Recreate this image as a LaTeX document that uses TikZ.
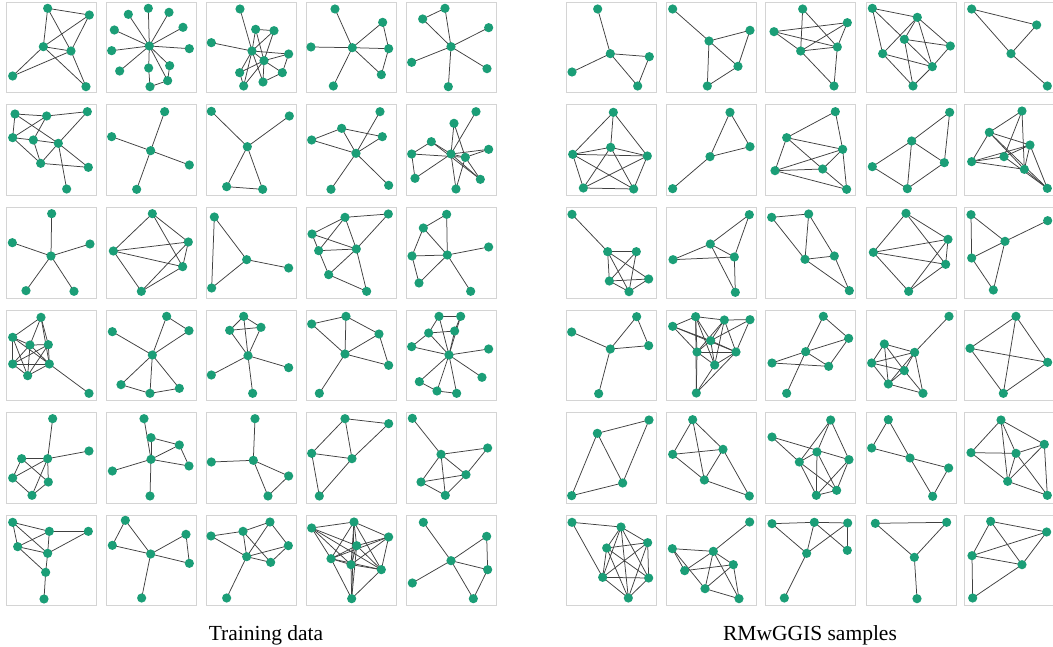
\documentclass[tikz,border=0pt]{standalone}
\usepackage{fontspec}
\setmainfont{Liberation Serif}
\definecolor{nodegreen}{RGB}{27,158,119}
\definecolor{framegray}{RGB}{212,212,212}
\definecolor{edgegray}{RGB}{64,64,64}
\tikzset{
  vert/.style={circle,fill=nodegreen,draw=none,minimum size=9.2pt,inner sep=0pt},
  edge/.style={draw=edgegray,line width=0.75pt},
  panel/.style={draw=framegray,line width=0.9pt},
  caption/.style={anchor=base,font=\fontsize{21.5}{26}\selectfont}
}
% #1 name prefix, #2 offset of the row strip, #3 vertices name/x/y, #4 edges u/w
% vertex coordinates are given at three times the pixel scale of the strip
\newcommand\drawnet[4]{%
  \begin{scope}[shift={#2},x=0.333333pt,y=-0.333333pt]
    \foreach \n/\px/\py in {#3} \coordinate (#1\n) at (\px,\py);
    \foreach \u/\w in {#4} \draw[edge] (#1\u) -- (#1\w);
    \foreach \n/\px/\py in {#3} \node[vert] (#1\n v) at (#1\n) {};
  \end{scope}}
\begin{document}
\begin{tikzpicture}[x=1pt,y=-1pt]
\fill[white] (0,0) rectangle (1053,647);
\useasboundingbox (0,0) rectangle (1053,647);

% panel frames
\foreach \r in {0,...,5} {
  \foreach \cx in {6,106,206,306,406} \draw[panel] (\cx,2.3+102.6*\r) rectangle ++(90,90.5);
  \foreach \cx in {566,666.5,765.7,866,964.3} \draw[panel] (\cx,2.3+102.6*\r) rectangle ++(90,90.5);
}

% ---------------- training data ----------------
% row 1
\drawnet{L1}{(0,0)}{a/143/25, b/268/45, c/130/140, d/213/153, e/38/228, f/258/260}
  {a/b, a/c, a/d, b/c, b/d, c/d, c/e, e/d, c/f, d/f}
\drawnet{L2}{(0,0)}{o/448/138, a/385/43, b/445/25, c/507/37, d/549/82, e/343/90, f/568/146, g/335/152, h/359/213, i/446/204, j/509/197, k/503/242, l/450/260}
  {o/a, o/b, o/c, o/d, o/e, o/f, o/g, o/h, o/i, o/j, o/k, i/l, l/k, j/k}
\drawnet{L3}{(0,0)}{a/720/27, b/767/88, c/822/92, d/634/128, e/756/153, f/866/162, g/792/182, h/719/218, i/847/218, j/789/246, k/731/258}
  {a/e, d/e, b/e, b/c, c/e, b/g, c/g, e/f, e/g, e/h, e/k, g/f, g/i, g/h, g/j, g/k, h/k, j/i, f/i, e/j}
\drawnet{L4}{(0,0)}{o/1057/143, a/1005/27, b/1148/67, c/933/141, d/1166/146, e/1000/258, f/1144/224}
  {o/a, o/b, o/c, o/d, o/e, o/f, b/d, d/f}
\drawnet{L5}{(0,0)}{o/1353/140, a/1335/25, b/1268/57, c/1466/83, d/1235/187, e/1461/206, f/1345/260}
  {b/a, a/o, b/o, o/c, o/d, o/e, o/f}
% row 2
\drawnet{L6}{(0,100)}{a/45/42, b/140/48, c/262/35, d/38/113, e/100/120, f/175/130, g/122/190, h/265/202, i/200/267}
  {a/b, b/c, a/d, a/f, b/d, b/e, c/f, d/e, e/f, d/g, e/g, g/f, g/h, f/h, f/i}
\drawnet{L7}{(0,100)}{o/452/152, a/494/35, b/335/110, c/568/195, d/410/268}
  {o/a, o/b, o/c, o/d}
\drawnet{L8}{(0,100)}{o/742/140, a/634/34, b/868/48, c/680/260, d/788/268}
  {o/a, o/b, o/c, o/d, c/d}
\drawnet{L9}{(0,100)}{a/1140/35, b/1025/85, c/935/120, d/1147/110, e/1068/160, f/993/268, g/1166/256}
  {c/b, c/e, b/d, b/e, a/e, d/e, e/f, e/g}
\drawnet{L10}{(0,100)}{a/1428/35, b/1362/70, c/1294/125, d/1466/148, e/1235/162, f/1353/162, g/1396/172, h/1245/235, i/1441/238, j/1368/267}
  {a/f, b/f, b/g, c/e, c/f, c/i, e/g, e/h, h/f, f/d, g/d, f/g, f/i, g/i, f/j, g/j}
% row 3
\drawnet{L11}{(0,202)}{o/153/162, a/155/35, b/37/122, c/270/126, d/78/266, e/222/268}
  {o/a, o/b, o/c, o/d, o/e}
\drawnet{L12}{(0,202)}{a/457/35, b/340/147, c/565/120, d/548/194, e/424/268}
  {a/b, a/c, a/d, b/c, b/d, b/e, c/d, c/e, d/e}
\drawnet{L13}{(0,202)}{a/643/45, b/740/173, c/635/258, d/866/198}
  {a/b, a/c, b/c, b/d}
\drawnet{L14}{(0,202)}{a/1035/46, b/1165/36, c/936/96, d/956/146, e/1069/141, f/986/218, g/1100/268}
  {a/b, a/c, a/d, a/e, b/e, c/e, c/d, d/e, d/f, e/f, e/g, f/g}
\drawnet{L15}{(0,202)}{a/1340/37, b/1270/78, c/1236/162, d/1342/159, e/1466/135, f/1257/243, g/1412/268}
  {a/b, a/d, b/d, b/c, c/d, c/f, d/e, d/f, d/g}
% row 4
\drawnet{L16}{(0,304)}{a/123/40, b/38/100, c/90/123, d/145/122, e/38/180, f/148/180, g/83/215, h/267/268}
  {a/b, a/c, a/d, a/f, b/c, b/e, b/f, b/g, c/d, c/e, c/f, c/g, d/e, d/f, d/g, e/f, e/g, f/g, f/h}
\drawnet{L17}{(0,304)}{a/500/37, b/567/80, c/337/83, d/457/153, e/363/242, f/450/268, g/538/253}
  {a/b, a/d, b/d, c/d, d/e, d/f, d/g, e/f, f/g}
\drawnet{L18}{(0,304)}{a/731/37, b/689/79, c/783/70, d/744/155, e/634/213, f/866/191, g/758/268}
  {a/b, a/c, b/c, a/d, b/d, c/d, d/e, d/f, d/g}
\drawnet{L19}{(0,304)}{a/1038/37, b/935/60, c/1137/90, d/1035/150, e/1166/184, f/958/268}
  {a/b, a/c, a/d, b/d, c/d, c/e, d/e, d/f}
\drawnet{L20}{(0,304)}{a/1317/37, b/1382/37, c/1286/87, d/1364/81, e/1235/128, f/1466/135, g/1347/153, h/1446/220, i/1258/233, j/1311/261, k/1370/268}
  {a/b, a/c, a/g, b/g, b/d, c/d, c/e, c/g, d/g, e/g, f/g, g/h, g/i, g/j, g/k, i/j, j/k}
% row 5
\drawnet{L21}{(0,406)}{a/158/38, b/267/135, c/65/158, d/143/158, e/38/216, f/145/228, g/96/268}
  {a/d, d/b, c/d, c/f, c/e, d/e, d/f, d/g, e/g, f/g}
\drawnet{L22}{(0,406)}{a/432/38, b/453/95, c/538/117, d/453/160, e/337/195, f/567/180, g/450/270}
  {a/d, b/d, b/c, c/f, d/c, d/f, d/e, d/g}
\drawnet{L23}{(0,406)}{a/765/38, b/760/163, c/634/168, d/866/210, e/804/270}
  {a/b, b/c, b/d, b/e, d/e}
\drawnet{L24}{(0,406)}{a/1035/38, b/1166/53, c/935/142, d/1056/158, e/958/270}
  {a/b, a/c, a/d, b/d, c/d, c/e, d/e}
\drawnet{L25}{(0,406)}{a/1237/37, b/1323/145, c/1463/126, d/1263/228, e/1398/206, f/1336/268}
  {a/b, b/c, b/d, b/e, b/f, c/e, d/e, d/f, e/f}
% row 6
\drawnet{L26}{(0,508)}{a/38/43, b/148/70, c/265/70, d/53/116, e/143/136, f/137/193, g/132/273}
  {a/b, a/d, a/e, b/c, b/d, b/e, c/e, d/e, d/f, e/f, f/g}
\drawnet{L27}{(0,508)}{a/376/37, b/558/79, c/337/112, d/452/138, e/568/166, f/425/270}
  {a/c, a/d, c/d, d/b, b/e, d/e, d/f}
\drawnet{L28}{(0,508)}{a/810/42, b/633/84, c/729/70, d/865/113, e/740/146, f/812/163, g/680/270}
  {b/c, b/e, c/a, c/e, c/f, a/e, a/d, d/f, e/d, e/f, e/g}
\drawnet{L29}{(0,508)}{a/935/60, b/1062/42, c/1166/87, d/1070/113, e/993/152, f/1053/170, g/1144/185, h/1055/272}
  {a/b, a/d, a/e, a/f, a/g, b/c, b/d, b/e, b/f, b/g, b/h, c/d, c/e, c/f, c/g, d/e, d/f, d/g, d/h, e/f, e/g, e/h, f/g, f/h, g/h}
\drawnet{L30}{(0,508)}{a/1270/43, b/1460/85, c/1353/158, d/1463/185, e/1237/225, f/1420/272}
  {a/c, b/c, b/d, c/d, c/e, c/f, d/f}

% ---------------- generated samples ----------------
% row 1
\drawnet{R1}{(560,0)}{a/113/27, b/151/161, c/268/170, d/36/216, e/233/258}
  {a/b, b/c, b/d, b/e, c/e}
\drawnet{R2}{(560,0)}{a/338/27, b/447/123, c/570/91, d/534/199, e/442/258}
  {a/b, b/c, c/d, b/d, b/e, d/e}
\drawnet{R3}{(560,0)}{a/728/27, b/862/68, c/642/95, d/722/153, e/832/141, f/822/258}
  {a/d, a/e, b/c, b/d, b/e, c/d, c/e, d/e, d/f, e/f}
\drawnet{R4}{(560,0)}{a/937/25, b/1072/52, c/1033/118, d/968/161, e/1171/138, f/1117/200, g/1059/258}
  {a/b, a/c, a/d, b/c, b/d, b/e, b/f, c/e, c/f, c/g, d/f, d/g, e/f, f/g}
\drawnet{R5}{(560,0)}{a/1235/27, b/1430/75, c/1353/161, d/1462/258}
  {a/b, a/c, b/c, c/d}
% row 2
\drawnet{R6}{(560,100)}{a/160/37, b/152/142, c/38/163, d/262/168, e/70/264, f/221/267}
  {a/c, a/b, a/d, c/b, b/d, c/d, c/e, c/f, b/e, b/f, d/e, d/f, e/f}
\drawnet{R7}{(560,100)}{a/510/37, b/570/140, c/450/170, d/338/266}
  {a/b, a/c, b/c, c/d}
\drawnet{R8}{(560,100)}{a/826/35, b/680/113, c/848/148, d/645/212, e/788/207, f/860/268}
  {a/b, a/c, b/c, b/d, b/e, c/d, c/e, c/f, d/e, d/f, e/f}
\drawnet{R9}{(560,100)}{a/1169/37, b/1055/123, c/937/200, d/1153/188, e/1042/266}
  {a/b, a/d, b/c, b/d, b/e, c/e, d/e}
\drawnet{R10}{(560,100)}{a/1386/33, b/1288/97, c/1410/135, d/1235/185, e/1332/170, f/1393/208, g/1462/265}
  {a/b, a/e, a/f, b/c, b/d, b/f, b/g, c/d, c/e, c/f, c/g, d/e, d/f, e/g, f/g}
% row 3
\drawnet{R11}{(560,202)}{a/36/37, b/143/149, c/229/149, d/148/237, e/266/231, f/207/269}
  {a/b, b/c, b/d, b/e, b/f, c/d, c/f, d/e, d/f, e/f}
\drawnet{R12}{(560,202)}{a/568/38, b/451/126, c/339/173, d/523/165, e/526/271}
  {a/b, a/d, b/c, b/d, b/e, c/d, d/e}
\drawnet{R13}{(560,202)}{a/635/46, b/746/36, c/735/172, d/823/162, e/868/266}
  {a/b, a/c, b/c, b/d, c/d, c/e, d/e}
\drawnet{R14}{(560,202)}{a/1038/34, b/1164/112, c/940/151, d/1157/187, e/1046/268}
  {a/b, a/c, a/d, b/c, b/d, b/e, c/d, c/e, d/e}
\drawnet{R15}{(560,202)}{a/1233/38, b/1335/118, c/1463/56, d/1235/168, e/1300/264}
  {a/b, a/d, b/c, b/d, b/e, d/e}
% row 4
\drawnet{R16}{(560,304)}{a/230/38, b/35/84, c/151/135, d/266/125, e/116/269}
  {a/c, a/d, b/c, c/d, c/e}
\drawnet{R17}{(560,304)}{a/407/38, b/493/48, c/570/47, d/338/67, e/452/110, f/411/144, g/528/144, h/464/183, i/409/267}
  {a/b, b/c, a/d, a/e, a/f, a/h, a/i, b/e, b/f, b/g, b/h, c/e, c/g, d/e, d/g, d/f, e/f, e/g, e/h, f/g, f/h, f/i, h/i, g/h, g/i}
\drawnet{R18}{(560,304)}{a/790/37, b/866/103, c/636/177, d/737/143, e/806/187, f/680/268}
  {a/b, a/d, b/d, b/e, c/d, c/e, d/e, d/f}
\drawnet{R19}{(560,304)}{a/1167/37, b/973/120, c/1064/145, d/935/177, e/1033/200, f/985/240, g/1089/268}
  {a/c, b/c, b/d, b/e, b/f, c/d, c/e, c/f, c/g, d/e, d/f, e/f, e/g, f/g}
\drawnet{R20}{(560,304)}{a/1368/37, b/1230/133, c/1463/175, d/1330/268}
  {a/b, a/c, a/d, b/c, b/d, c/d}
% row 5
\drawnet{R21}{(560,406)}{a/267/42, b/112/82, c/188/231, d/35/269}
  {a/b, a/c, b/c, b/d, c/d}
\drawnet{R22}{(560,406)}{a/398/41, b/338/145, c/489/130, d/433/222, e/568/270}
  {a/b, a/c, a/d, b/c, b/d, c/d, c/e, d/e}
\drawnet{R23}{(560,406)}{a/812/42, b/636/93, c/771/138, d/718/168, e/867/161, f/769/268, g/830/253}
  {b/d, b/e, a/c, a/d, a/e, c/d, c/f, c/g, d/f, d/g, e/f, e/g, f/g}
\drawnet{R24}{(560,406)}{a/985/41, b/935/126, c/1050/156, d/1166/186, e/1118/271}
  {a/b, a/c, b/c, c/d, c/e, d/e}
\drawnet{R25}{(560,406)}{a/1323/42, b/1233/140, c/1368/142, d/1453/115, e/1343/226, f/1462/268}
  {a/b, a/c, a/d, a/e, b/c, b/e, c/d, c/e, c/f, d/e, d/f, e/f}
% row 6
\drawnet{R26}{(560,508)}{a/36/43, b/183/57, c/140/120, d/263/104, e/128/208, f/266/210, g/205/270}
  {a/b, a/e, b/c, b/d, b/e, b/f, b/g, c/d, c/e, c/f, c/g, d/e, d/f, d/g, e/f, e/g, f/g}
\drawnet{R27}{(560,508)}{a/569/42, b/337/122, c/460/130, d/374/188, e/520/170, f/435/242, g/537/272}
  {a/c, b/c, b/d, b/f, c/d, c/e, c/f, c/g, d/e, e/f, e/g, f/g}
\drawnet{R28}{(560,508)}{a/636/47, b/763/43, c/863/45, d/740/136, e/862/127, f/673/270}
  {a/b, a/d, b/c, b/d, b/e, c/d, c/e, d/f}
\drawnet{R29}{(560,508)}{a/946/46, b/1160/43, c/1063/148, d/1071/272}
  {a/b, a/c, b/c, c/d}
\drawnet{R30}{(560,508)}{a/1292/40, b/1460/72, c/1236/143, d/1386/170, e/1238/270}
  {a/b, a/c, a/d, b/c, b/d, c/d, c/e, d/e}

% captions
\node[caption] (captrain) at (266,640) {Training data};
\node[caption] (capsample) at (810,640) {RMwGGIS samples};
\end{tikzpicture}
\end{document}
